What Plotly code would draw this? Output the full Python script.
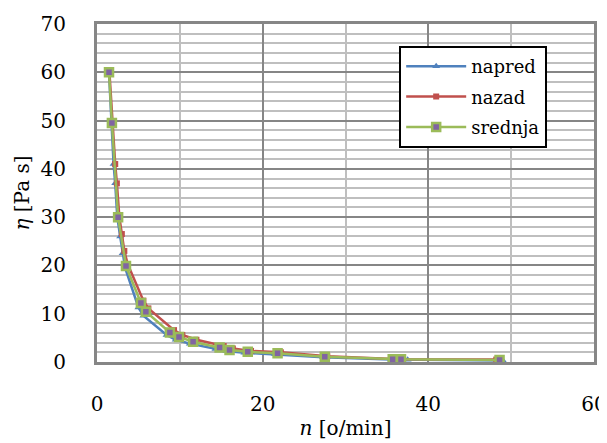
import plotly.graph_objects as go

# n [o/min] and viscosity [Pa s]
n_napred = [1.45, 1.75, 2.0, 2.2, 2.45, 2.8, 3.1, 3.4, 5.0, 5.6, 8.4, 9.5, 11.2, 14.3, 15.6, 17.8, 21.5, 27.3, 35.5, 37.5, 49.0]
eta_napred = [60, 49.5, 41, 37, 30, 26, 22.5, 19.5, 11.3, 9.6, 5.6, 4.6, 3.8, 2.7, 2.3, 1.9, 1.6, 1.0, 0.5, 0.45, 0.3]

n_nazad = [1.5, 1.85, 2.2, 2.4, 2.7, 3.0, 3.3, 3.7, 5.6, 6.2, 9.3, 10.3, 12.0, 15.3, 16.4, 18.6, 22.2, 27.8, 36.0, 36.5, 48.2]
eta_nazad = [60, 49.5, 41, 37, 30, 26.5, 23, 20.3, 12.7, 11.1, 6.6, 5.6, 4.6, 3.3, 2.8, 2.3, 2.0, 1.2, 0.6, 0.55, 0.5]

n_srednja = [1.45, 1.8, 2.55, 3.5, 5.3, 5.9, 8.8, 9.9, 11.6, 14.8, 16.0, 18.2, 21.8, 27.5, 35.7, 36.7, 48.6]
eta_srednja = [60, 49.5, 30, 19.9, 12.2, 10.4, 6.1, 5.2, 4.2, 3.0, 2.5, 2.1, 1.8, 1.1, 0.55, 0.55, 0.4]

x_ticks = [0, 20, 40, 60]
y_ticks = [0, 10, 20, 30, 40, 50, 60, 70]

font_family = "DejaVu Serif"

fig = go.Figure()
fig.add_trace(go.Scatter(
    x=n_napred, y=eta_napred, name="napred", mode="lines+markers", legendgroup="a",
    line=dict(color="#4F81BD", width=2.5),
    marker=dict(symbol="triangle-up", size=7, color="#4F81BD"),
))
fig.add_trace(go.Scatter(
    x=n_nazad, y=eta_nazad, name="nazad", mode="lines+markers", legendgroup="b",
    line=dict(color="#C0504D", width=2.5),
    marker=dict(symbol="square", size=6, color="#C0504D"),
))
fig.add_trace(go.Scatter(
    x=n_srednja, y=eta_srednja, name="srednja", mode="lines+markers", legendgroup="c",
    line=dict(color="#9BBB59", width=2.5),
    marker=dict(symbol="square", size=8, color="#8064A2",
                line=dict(color="#9BBB59", width=2.5)),
))

fig.update_layout(
    width=599, height=435,
    margin=dict(l=89, r=13, t=16, b=81),
    paper_bgcolor="white", plot_bgcolor="white",
    font=dict(family=font_family, color="black", size=20),
    showlegend=True,
    legend=dict(
        x=0.608, y=0.935, xanchor="left", yanchor="top",
        bgcolor="white", bordercolor="black", borderwidth=2,
        font=dict(family=font_family, size=18, color="black"),
        itemwidth=60, tracegroupgap=4, traceorder="grouped",
    ),
    xaxis=dict(
        range=[0, 60], tickvals=x_ticks, ticks="",
        showgrid=True, gridcolor="#868686", gridwidth=2,
        minor=dict(dtick=10, showgrid=True, gridcolor="#BFBFBF", gridwidth=2),
        showline=True, linecolor="#868686", linewidth=3, mirror=True,
        zeroline=False, automargin=False,
        tickfont=dict(size=20), ticklabelstandoff=22,
        title=dict(text="<i>n</i> [o/min]", font=dict(size=20), standoff=6),
    ),
    yaxis=dict(
        range=[0, 70], tickvals=y_ticks, ticks="",
        showgrid=True, gridcolor="#868686", gridwidth=2,
        minor=dict(dtick=2, showgrid=True, gridcolor="#BFBFBF", gridwidth=2),
        showline=True, linecolor="#868686", linewidth=3, mirror=True,
        zeroline=False, automargin=False,
        tickfont=dict(size=20), ticklabelstandoff=24,
        title=dict(text="<i>η</i> [Pa s]", font=dict(size=20), standoff=6),
    ),
)

fig.write_html("out.html")
